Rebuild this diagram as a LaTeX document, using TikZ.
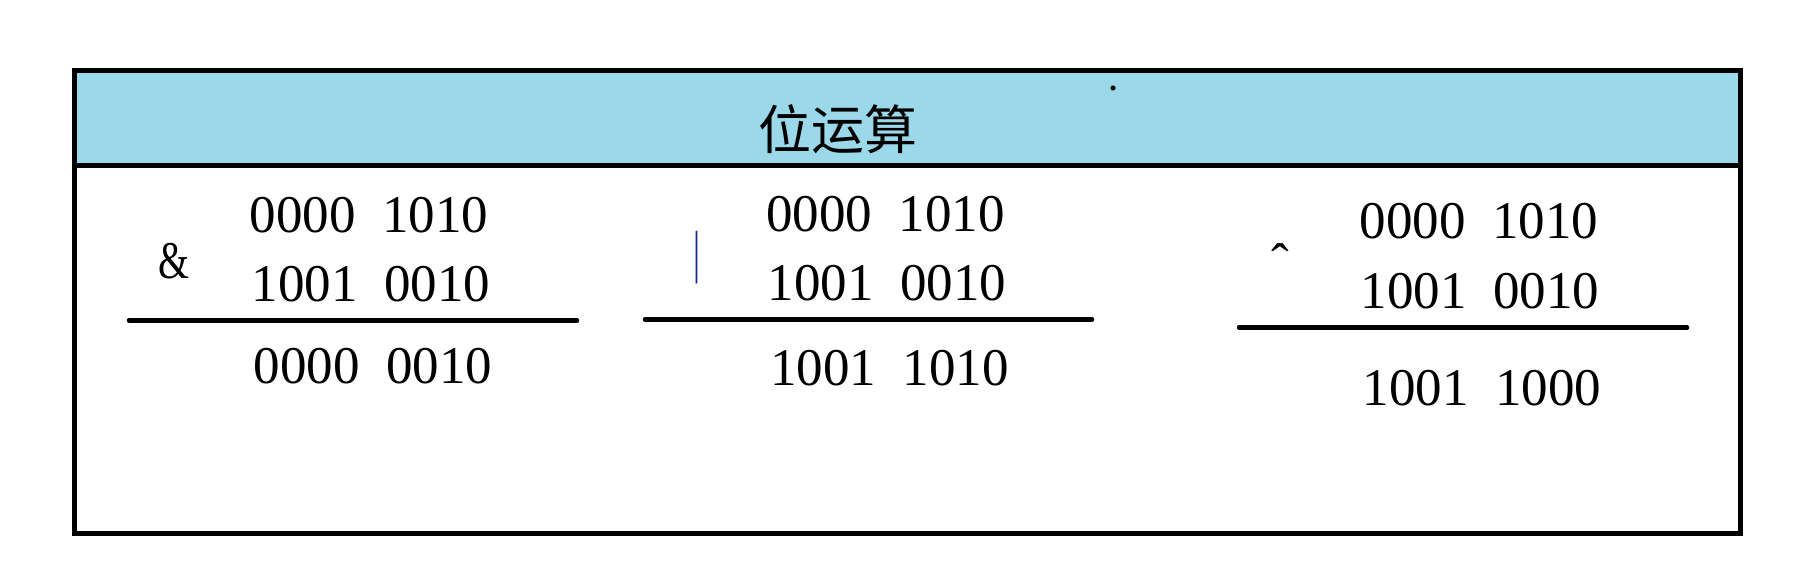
\documentclass[tikz,border=0pt]{standalone}
\usepackage{fontspec}
\usepackage{graphicx}
\setmainfont{Liberation Serif}
\newfontfamily\cjk{Noto Sans CJK SC}
\definecolor{headerblue}{RGB}{155,217,234}
\definecolor{barblue}{RGB}{20,40,140}
\begin{document}
\begin{tikzpicture}[x=1pt,y=-1pt,
  digits/.style={inner sep=0pt,outer sep=0pt,font=\fontsize{53pt}{60pt}\selectfont},
  opsign/.style={inner sep=0pt,outer sep=0pt,font=\fontsize{53pt}{60pt}\selectfont},
  title/.style={inner sep=0pt,outer sep=0pt,font=\cjk\fontsize{53pt}{60pt}\selectfont},
  frame/.style={line width=5pt},
  rule/.style={line width=4.5pt,line cap=round}]
\useasboundingbox (0,0) rectangle (1810,577);
% header band and frame
\fill[headerblue] (74.5,70.5) rectangle (1740.5,165.5);
\draw[frame] (74.5,165.5) -- (1740.5,165.5);
\draw[frame] (74.5,70.5) rectangle (1740.5,533);
\node[title] (title) at (838,129) {位运算};
\fill (1113,88) circle (2.6);
% AND column
\node[opsign] (andop) at (174,261) {\scalebox{0.75}[1]{\&}};
\node[digits] (and1) at (369,215) {0000\ \ 1010};
\node[digits] (and2) at (371,284) {1001\ \ 0010};
\draw[rule] (129,320.5) -- (577,320.5);
\node[digits] (and3) at (373,366) {0000\ \ 0010};
% OR column
\node[opsign,text=barblue,font=\fontsize{58pt}{64pt}\selectfont] (orop) at (697,257.5) {\scalebox{0.6}[1]{|}};
\node[digits] (or1) at (885.5,214) {0000\ \ 1010};
\node[digits] (or2) at (887,283.5) {1001\ \ 0010};
\draw[rule] (645,319.5) -- (1092,319.5);
\node[digits] (or3) at (889.5,368) {1001\ \ 1010};
% XOR column
\node[opsign,anchor=north] (xorop) at (1280,244) {ˆ};
\node[digits] (xor1) at (1479,221.5) {0000\ \ 1010};
\node[digits] (xor2) at (1480,291) {1001\ \ 0010};
\draw[rule] (1239,327.5) -- (1687,327.5);
\node[digits] (xor3) at (1482,388) {1001\ \ 1000};
\end{tikzpicture}
\end{document}
